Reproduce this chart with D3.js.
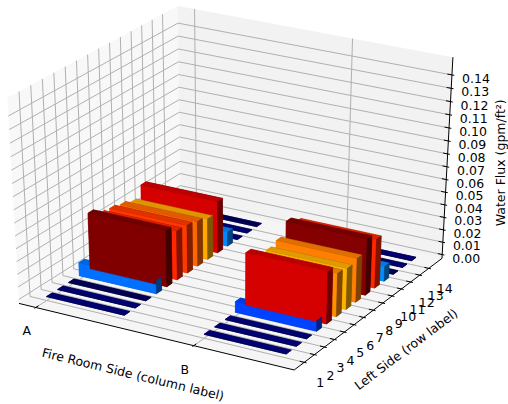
<!DOCTYPE html>
<html><head><meta charset="utf-8">
<script src="https://cdn.jsdelivr.net/npm/d3@7"></script>
<style>body{margin:0;background:#fff}svg{display:block}text{font-family:"DejaVu Sans",sans-serif;fill:#000}</style>
</head><body><svg id="c" width="508" height="404"></svg>
<script>
// ---- data ----
const columns = ["A", "B"];
const rows = [1, 2, 3, 4, 5, 6, 7, 8, 9, 10, 11, 12, 13, 14];
const fluxA = [0, 0, 0, 0.0105, 0.0445, 0.0387, 0.0378, 0.0356, 0.0325, 0.0412, 0.0115, 0, 0, 0];
const fluxB = [0, 0, 0, 0.0085, 0.0412, 0.0338, 0.0322, 0.0345, 0.0443, 0.0387, 0.0118, 0, 0, 0];
const zTicks = [0, 0.01, 0.02, 0.03, 0.04, 0.05, 0.06, 0.07, 0.08, 0.09, 0.10, 0.11, 0.12, 0.13, 0.14];
const xTitle = "Fire Room Side (column label)";
const yTitle = "Left Side (row label)";
const zTitle = "Water Flux (gpm/ft²)";

// ---- geometry ----
const barDx = 0.5, barDy = 0.5;
const svg = d3.select("#c");
const margin = (e, m) => { const s = (e[1] - e[0]) * m; return [e[0] - s, e[1] + s]; };
const xLim = margin([0, columns.length - 1 + barDx], 0.05);
const yLim = margin([d3.min(rows), d3.max(rows) + barDy], 0.05);
const zLim = [0, 0.15];
const sx = d3.scaleLinear().domain(xLim).range([0, 1]);
const sy = d3.scaleLinear().domain(yLim).range([0, 1]);
const sz = d3.scaleLinear().domain(zLim).range([0, 1]);
const padded = l => { const p = (l[1] - l[0]) / 48; return [l[0] - p, l[1] + p]; };
const xB = padded(xLim), yB = padded(yLim), zB = padded(zLim);
const dX = (xLim[1] - xLim[0]) / 12, dY = (yLim[1] - yLim[0]) / 12;

const el = 30 * Math.PI / 180, az = -60 * Math.PI / 180, DIST = 10;
const W3 = [Math.cos(el) * Math.cos(az), Math.cos(el) * Math.sin(az), Math.sin(el)];
const U3 = [-Math.sin(az), Math.cos(az), 0];
const V3 = [-Math.sin(el) * Math.cos(az), -Math.sin(el) * Math.sin(az), Math.cos(el)];
const CX = 233.9, CY = 181.5, KX = 3049, KY = 2253;
const dot = (a, b) => a[0] * b[0] + a[1] * b[1] + a[2] * b[2];
function P(x, y, z) {
  const q = [sx(x) - 0.5, sy(y) - 0.5, sz(z) - 0.5];
  const dw = dot(W3, q), d = DIST - dw;
  return [CX + KX * dot(U3, q) / d, CY - KY * dot(V3, q) / d, dw];
}
const line2 = d3.line();
const poly = pts => "M" + pts.map(p => { const s = P(...p); return s[0] + "," + s[1]; }).join("L") + "Z";
const path3 = pts => line2(pts.map(p => P(...p).slice(0, 2)));

// ---- panes ----
const gP = svg.append("g");
gP.append("path").attr("d", poly([[xB[0], yB[0], zB[0]], [xB[0], yB[1], zB[0]], [xB[0], yB[1], zB[1]], [xB[0], yB[0], zB[1]]]))
  .attr("fill", "rgb(242,242,242)").attr("fill-opacity", 0.5);
gP.append("path").attr("d", poly([[xB[0], yB[1], zB[0]], [xB[1], yB[1], zB[0]], [xB[1], yB[1], zB[1]], [xB[0], yB[1], zB[1]]]))
  .attr("fill", "rgb(230,230,230)").attr("fill-opacity", 0.5);
gP.append("path").attr("d", poly([[xB[0], yB[0], zB[0]], [xB[1], yB[0], zB[0]], [xB[1], yB[1], zB[0]], [xB[0], yB[1], zB[0]]]))
  .attr("fill", "rgb(236,236,236)").attr("fill-opacity", 0.5);

// ---- grid ----
const gG = svg.append("g").attr("fill", "none").attr("stroke", "#b0b0b0").attr("stroke-width", 1);
columns.forEach((c, i) => gG.append("path").attr("d", path3([[i, yB[0], zB[0]], [i, yB[1], zB[0]], [i, yB[1], zB[1]]])));
rows.forEach(r => gG.append("path").attr("d", path3([[xB[1], r, zB[0]], [xB[0], r, zB[0]], [xB[0], r, zB[1]]])));
zTicks.forEach(z => gG.append("path").attr("d", path3([[xB[0], yB[0], z], [xB[0], yB[1], z], [xB[1], yB[1], z]])));

// ---- axes lines and ticks ----
const gA = svg.append("g").attr("fill", "none").attr("stroke", "#000").attr("stroke-width", 1);
gA.append("path").attr("d", path3([[xB[0], yB[0], zB[0]], [xB[1], yB[0], zB[0]]]));
gA.append("path").attr("d", path3([[xB[1], yB[0], zB[0]], [xB[1], yB[1], zB[0]]]));
gA.append("path").attr("d", path3([[xB[1], yB[1], zB[0]], [xB[1], yB[1], zB[1]]]));
columns.forEach((c, i) => gA.append("path").attr("d", path3([[i, yB[0] - 0.1 * dY, zB[0]], [i, yB[0] + 0.2 * dY, zB[0]]])));
rows.forEach(r => gA.append("path").attr("d", path3([[xB[1] + 0.1 * dX, r, zB[0]], [xB[1] - 0.2 * dX, r, zB[0]]])));
zTicks.forEach(z => gA.append("path").attr("d", path3([[xB[1] + 0.1 * dX, yB[1], z], [xB[1] - 0.2 * dX, yB[1], z]])));

// ---- tick labels ----
const FS = 12.5;
const gT = svg.append("g").attr("font-size", FS).attr("text-anchor", "middle").attr("dominant-baseline", "central");
columns.forEach((c, i) => { const p = P(i, yB[0], zB[0]); gT.append("text").attr("x", p[0] - 9).attr("y", p[1] + 23.5).text(c); });
rows.forEach(r => { const p = P(xB[1], r, zB[0]); gT.append("text").attr("x", p[0] + 16).attr("y", p[1] + 20.5).text(r); });
const fmt = d3.format(".2f");
zTicks.forEach(z => { const p = P(xB[1], yB[1], z); gT.append("text").attr("x", p[0] + 24).attr("y", p[1] + 3.5).text(fmt(z)); });

// ---- axis titles ----
function title(a, b, off, txt, rot) {
  const pa = P(...a), pb = P(...b);
  const mx = (pa[0] + pb[0]) / 2 + off[0], my = (pa[1] + pb[1]) / 2 + off[1];
  const ang = rot !== undefined ? rot : Math.atan2(pb[1] - pa[1], pb[0] - pa[0]) * 180 / Math.PI;
  gT.append("text").attr("transform", `translate(${mx},${my}) rotate(${ang})`).text(txt);
}
title([xB[0], yB[0], zB[0]], [xB[1], yB[0], zB[0]], [-23.5, 37.5], xTitle);
title([xB[1], yB[0], zB[0]], [xB[1], yB[1], zB[0]], [38, 35], yTitle);
title([xB[1], yB[1], zB[0]], [xB[1], yB[1], zB[1]], [53, 5], zTitle, -90);

// ---- bars ----
const vmax = d3.max([...fluxA, ...fluxB]);
const jetR = d3.scaleLinear().domain([0, 0.35, 0.66, 0.89, 1]).range([0, 0, 1, 1, 0.5]).clamp(true);
const jetG = d3.scaleLinear().domain([0, 0.125, 0.375, 0.64, 0.91, 1]).range([0, 0, 1, 1, 0, 0]).clamp(true);
const jetB = d3.scaleLinear().domain([0, 0.11, 0.34, 0.65, 1]).range([0.5, 1, 1, 0, 0]).clamp(true);
const cNorm = d3.scaleLinear().domain([0, vmax]).range([0, 1]);
const col = (v, s) => { const t = cNorm(v); return d3.rgb(255 * jetR(t) * s, 255 * jetG(t) * s, 255 * jetB(t) * s).toString(); };

const faces = [];
[fluxA, fluxB].forEach((series, ci) => {
  series.forEach((h, ri) => {
    const x0 = ci, x1 = ci + barDx, y0 = rows[ri], y1 = rows[ri] + barDy, z0 = 0, z1 = h;
    const f = [
      [[[x0, y0, z0], [x0, y1, z0], [x1, y1, z0], [x1, y0, z0]], 0.625],
      [[[x0, y0, z1], [x1, y0, z1], [x1, y1, z1], [x0, y1, z1]], 0.875],
      [[[x0, y0, z0], [x1, y0, z0], [x1, y0, z1], [x0, y0, z1]], h > 0 ? 1 : 0.5],
      [[[x0, y1, z0], [x0, y1, z1], [x1, y1, z1], [x1, y1, z0]], 0.5],
      [[[x0, y0, z0], [x0, y0, z1], [x0, y1, z1], [x0, y1, z0]], h > 0 ? 1 : 0.5],
      [[[x1, y0, z0], [x1, y1, z0], [x1, y1, z1], [x1, y0, z1]], 0.5]
    ];
    f.forEach(([pts, s]) => {
      const depth = d3.mean(pts, p => P(...p)[2]);
      faces.push({ pts, fill: col(h, s), depth });
    });
  });
});
faces.sort((a, b) => a.depth - b.depth);
svg.append("g").selectAll("path").data(faces).join("path")
  .attr("d", d => poly(d.pts)).attr("fill", d => d.fill)
  .attr("stroke", d => d.fill).attr("stroke-width", 0.4).attr("stroke-linejoin", "round");
</script></body></html>
